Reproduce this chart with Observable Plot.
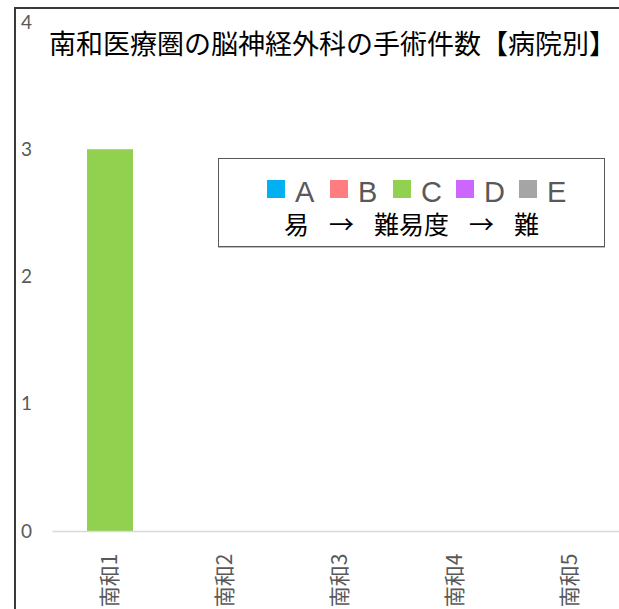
<!DOCTYPE html>
<html>
<head>
<meta charset="utf-8">
<script src="https://cdn.jsdelivr.net/npm/d3@7"></script>
<script src="https://cdn.jsdelivr.net/npm/@observablehq/plot@0.6"></script>
<style>
  html, body { margin: 0; padding: 0; background: #fff; }
  #wrap { position: relative; width: 619px; height: 609px; overflow: hidden; background: #fff; }
  #chart { position: absolute; left: 0; top: 0; width: 640px; }
  #chart svg { max-width: none !important; }
  #frame { position: absolute; left: 14px; top: 7px; width: 700px; height: 700px;
           border-left: 2px solid #3a3a3a; border-top: 2px solid #3a3a3a; box-sizing: border-box; }
  #title { position: absolute; left: 49px; top: 29px; white-space: nowrap;
           font-family: "Noto Sans CJK JP", sans-serif; font-size: 27px; line-height: 27px; color: #000; }
  #legend { position: absolute; left: 218px; top: 158px; width: 387px; height: 89px;
            border: 1px solid #595959; box-sizing: border-box; background: #fff;
            box-shadow: 0 1px 0 #bdbdbd; }
  #legrow { position: absolute; left: 48px; top: 20px; display: flex; height: 30px; }
  .item { width: 63px; display: flex; align-items: flex-start; }
  .sw { width: 18px; height: 18px; margin-top: 1px; margin-right: 10px; flex: none; }
  .lab { font-family: "Liberation Sans", Arial, sans-serif; font-size: 29px; line-height: 22px;
         color: #595959; margin-top: 2px; }
  #legrow2 { position: absolute; left: 65px; top: 52px; display: flex; gap: 20px;
             font-family: "Noto Sans CJK JP", sans-serif; font-size: 25px; line-height: 25px; color: #000; }
</style>
</head>
<body>
<div id="wrap">
  <div id="chart"></div>
  <div id="frame"></div>
  <div id="title"></div>
  <div id="legend"><div id="legrow"></div><div id="legrow2"></div></div>
</div>
<script>
// ---- data ----
const titleText = "南和医療圏の脳神経外科の手術件数【病院別】";
const hospitals = ["南和1", "南和2", "南和3", "南和4", "南和5"];
const levels = ["A", "B", "C", "D", "E"];
const levelColors = ["#00B0F0", "#FF7C80", "#92D050", "#CC66FF", "#A5A5A5"];
const countsA = [0, 0, 0, 0, 0];
const countsB = [0, 0, 0, 0, 0];
const countsC = [3, 0, 0, 0, 0];
const countsD = [0, 0, 0, 0, 0];
const countsE = [0, 0, 0, 0, 0];
const yTicks = [0, 1, 2, 3, 4];
const difficultyNote = ["易", "→", "難易度", "→", "難"];

// ---- table ----
const series = [countsA, countsB, countsC, countsD, countsE];
const rows = [];
levels.forEach((lv, i) => {
  hospitals.forEach((h, j) => rows.push({hospital: h, level: lv, count: series[i][j]}));
});

const chart = Plot.plot({
  width: 640,
  height: 609,
  marginLeft: 52.5,
  marginRight: 12.5,
  marginTop: 22,
  marginBottom: 78,
  style: {background: "transparent", fontFamily: "Lato, sans-serif", maxWidth: "none"},
  x: {domain: hospitals, paddingInner: 0.6, paddingOuter: 0.3, axis: null},
  y: {domain: [0, 4], axis: null},
  color: {domain: levels, range: levelColors},
  marks: [
    Plot.barY(rows, {x: "hospital", y: "count", fill: "level"}),
    Plot.ruleY([0], {stroke: "#d9d9d9", strokeWidth: 1.5}),
    Plot.text(yTicks, {y: d => d, text: d => String(d), frameAnchor: "left",
      textAnchor: "start", dx: -32, fill: "#595959", fontSize: 19, fontFamily: "Lato, sans-serif"}),
    Plot.axisX({tickSize: 0, tickPadding: 22, tickRotate: -90, fontSize: 21,
      fill: "#595959", fontFamily: "Noto Sans CJK JP, sans-serif", label: null})
  ]
});
document.getElementById("chart").appendChild(chart);

document.getElementById("title").textContent = titleText;

const row = document.getElementById("legrow");
levels.forEach((lv, i) => {
  const it = document.createElement("div");
  it.className = "item";
  const sw = document.createElement("div");
  sw.className = "sw";
  sw.style.background = levelColors[i];
  const lab = document.createElement("div");
  lab.className = "lab";
  lab.textContent = lv;
  it.appendChild(sw); it.appendChild(lab);
  row.appendChild(it);
});
const row2 = document.getElementById("legrow2");
difficultyNote.forEach(t => {
  const s = document.createElement("span");
  s.textContent = t;
  row2.appendChild(s);
});
</script>
</body>
</html>
